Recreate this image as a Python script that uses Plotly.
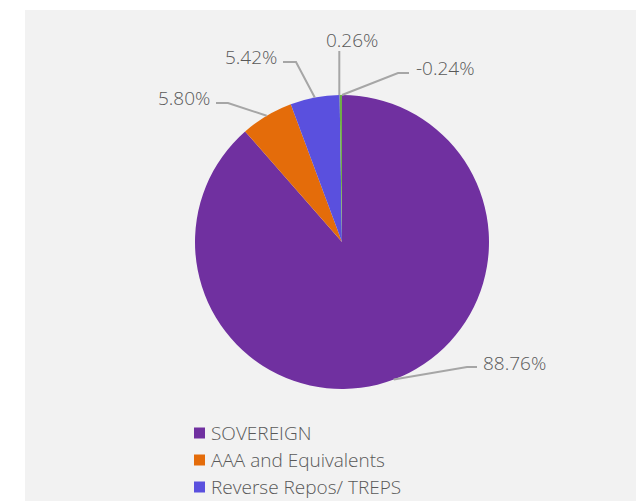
import math
import plotly.graph_objects as go

# Portfolio allocation by rating / instrument (percent of net assets)
categories = [
    "SOVEREIGN",
    "AAA and Equivalents",
    "Reverse Repos/ TREPS",
    "Corporate Debt Market Development Fund",
    "Net Current Assets",
]
shares = [88.76, 5.80, 5.42, 0.26, -0.24]
colors = ["#7030A0", "#E46C0A", "#5A50DE", "#70AD47", "#A5A5A5"]

W, H = 636, 501
TEXT = "#595959"
LEADER = "#A6A6A6"
FONT = "Open Sans"
WEIGHT = 300
FSIZE = 19

# pie placement (pixels)
CX, CY, R = 342, 242, 147


def px(x):
    return x / W


def py(y):
    return 1 - y / H


# a pie cannot show a negative share, so that slice has zero size
slice_sizes = [max(v, 0) for v in shares]
total = sum(slice_sizes)

fig = go.Figure()

fig.add_trace(go.Pie(
    labels=categories,
    values=slice_sizes,
    sort=False,
    direction="clockwise",
    rotation=0,
    marker=dict(colors=colors, line=dict(width=0)),
    textinfo="none",
    hoverinfo="label+percent",
    showlegend=False,
    domain=dict(x=[px(CX - R), px(CX + R)], y=[py(CY + R), py(CY - R)]),
))

# label placement for each slice: text anchor and the horizontal end of its leader
# (text_x, text_y, xanchor, elbow_x, end_x, line_y)
label_layout = [
    (481, 363, "left", 467, 477, 367),
    (212, 98, "right", 228, 216, 103),
    (279, 57, "right", 296, 283, 62),
    (352, 40, "center", None, None, 51),
    (414, 68, "left", 398, 409, 73),
]

shapes = [
    dict(type="rect", xref="paper", yref="paper",
         x0=px(25), x1=px(W), y0=py(H), y1=py(10),
         fillcolor="#F2F2F2", line=dict(width=0), layer="below"),
]
annotations = []

cum = 0.0
for size, value, lay in zip(slice_sizes, shares, label_layout):
    mid = (cum + size / 2) / total * 2 * math.pi
    cum += size
    ex = CX + R * math.sin(mid)
    ey = CY - R * math.cos(mid)
    tx, ty, anchor, elbow_x, end_x, line_y = lay
    if elbow_x is None:
        path = f"M{px(ex - 1.5)},{py(ey)} L{px(ex - 1.5)},{py(line_y)}"
    else:
        path = (f"M{px(ex)},{py(ey)} L{px(elbow_x)},{py(line_y)} "
                f"L{px(end_x)},{py(line_y)}")
    shapes.append(dict(type="path", xref="paper", yref="paper", path=path,
                       line=dict(color=LEADER, width=2)))
    annotations.append(dict(
        x=px(tx), y=py(ty), xref="paper", yref="paper",
        text=f"{value:.2f}%", showarrow=False,
        xanchor=anchor, yanchor="middle",
        font=dict(family=FONT, size=FSIZE, color=TEXT, weight=WEIGHT),
    ))

# legend entries listed under the pie; rows that would fall below the
# bottom edge of the chart area are left out
LEG_X, LEG_Y0, LEG_STEP, SQ = 194, 433, 27, 11
for i, (name, col) in enumerate(zip(categories, colors)):
    cy = LEG_Y0 + i * LEG_STEP
    if cy + 10 > H:
        break
    shapes.append(dict(type="rect", xref="paper", yref="paper",
                       x0=px(LEG_X), x1=px(LEG_X + SQ),
                       y0=py(cy + SQ / 2), y1=py(cy - SQ / 2),
                       fillcolor=col, line=dict(width=0)))
    annotations.append(dict(
        x=px(LEG_X + SQ + 4), y=py(cy), xref="paper", yref="paper",
        text=name, showarrow=False, xanchor="left", yanchor="middle",
        font=dict(family=FONT, size=FSIZE, color=TEXT, weight=WEIGHT),
    ))

fig.update_layout(
    width=W, height=H,
    margin=dict(l=0, r=0, t=0, b=0),
    paper_bgcolor="white",
    plot_bgcolor="white",
    shapes=shapes,
    annotations=annotations,
    showlegend=False,
)

fig.write_html("out.html")
